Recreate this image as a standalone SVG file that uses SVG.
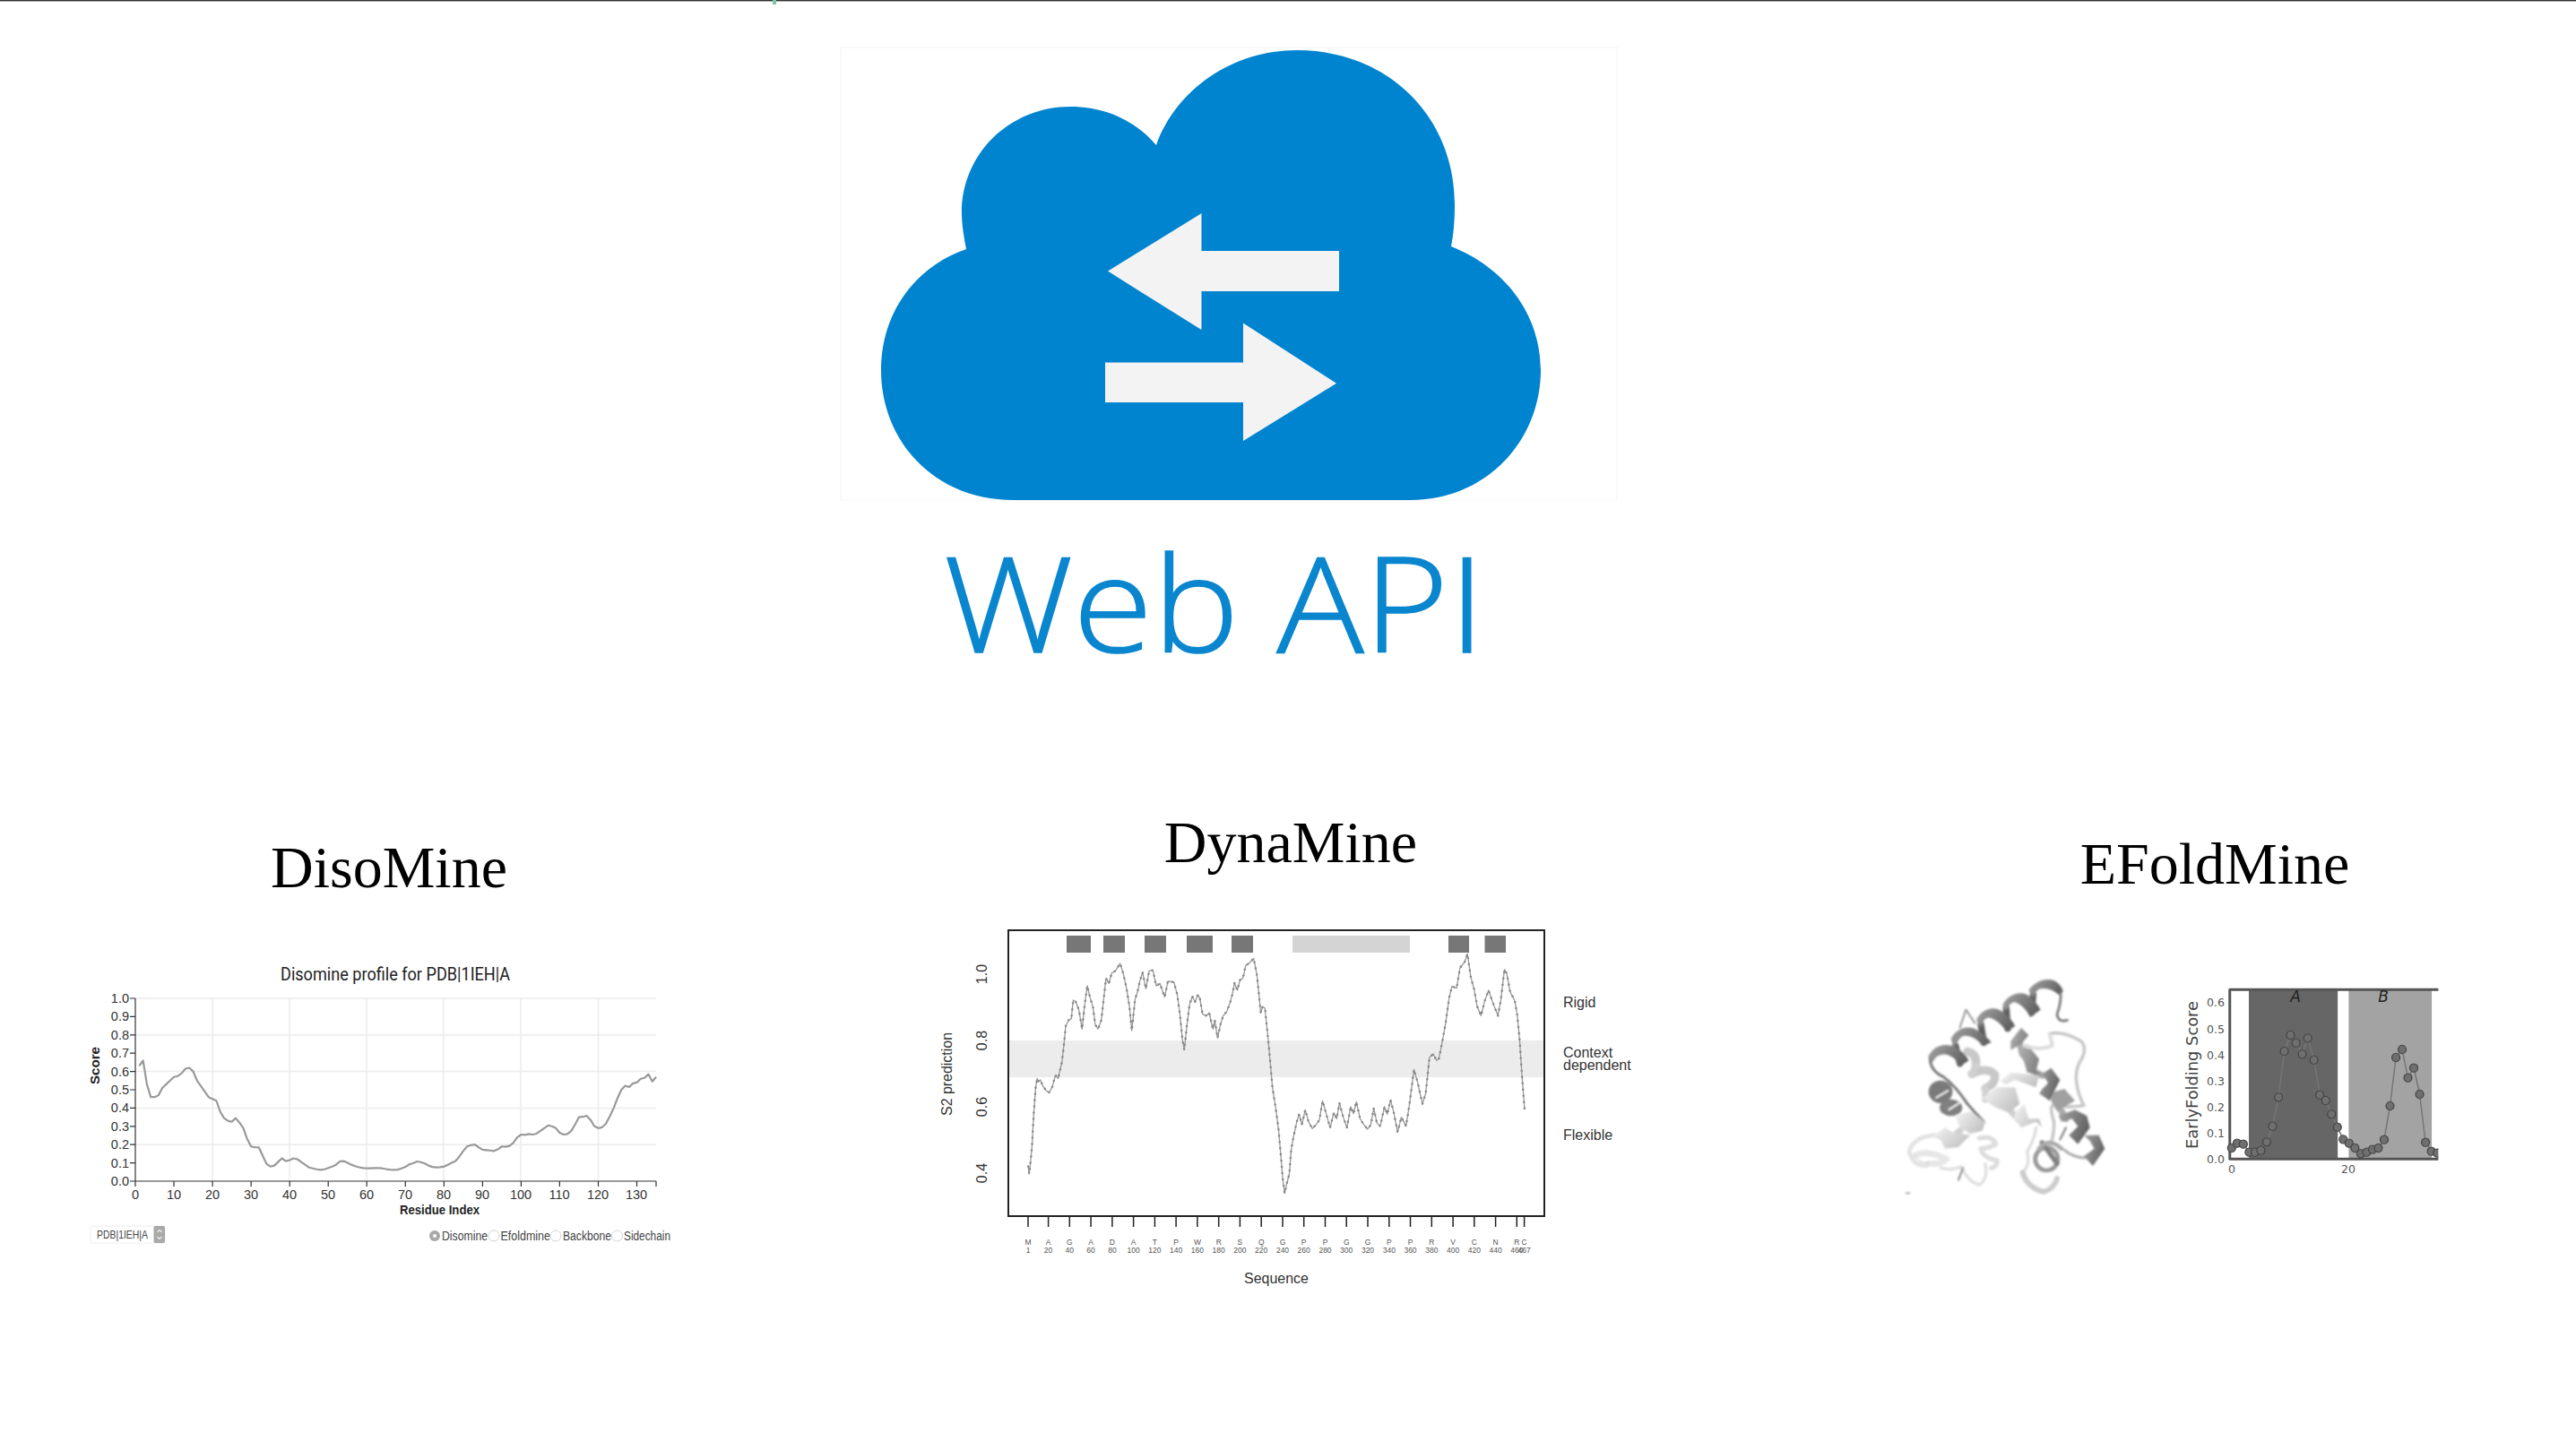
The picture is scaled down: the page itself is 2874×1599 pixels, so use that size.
<svg xmlns="http://www.w3.org/2000/svg" width="2874" height="1599" viewBox="0 0 2874 1599">
<style>
text{font-family:"Liberation Sans",Arial,sans-serif}
.title{font-family:"Liberation Serif","Times New Roman",serif;font-size:66px;fill:#000}
.dt{font-size:14.5px;fill:#333}
.dx{text-anchor:middle}
.dy{text-anchor:end}
.dl{font-size:14px;fill:#444}
.dyn{font-size:16px;fill:#333}
.seq{font-size:8.5px;fill:#555;text-anchor:middle}
.ef{font-family:"DejaVu Sans",sans-serif;font-size:12.5px;fill:#555}
.bar{fill:#777}
.nv{fill:none;stroke-linejoin:round}
.radio{fill:#fff;stroke:#d4d4d4;stroke-width:1}
.dynline{fill:none;stroke-linejoin:round;stroke:#999;stroke-width:1.3}
.dyndots{fill:none;stroke:#8a8a8a;stroke-width:2.6;stroke-linecap:round;stroke-dasharray:0 7}
</style>
<defs>
<marker id="efdot" markerUnits="userSpaceOnUse" markerWidth="36" markerHeight="36" refX="18" refY="18" orient="0">
<ellipse cx="18" cy="18" rx="11" ry="14" fill="#6f6f6f" stroke="#444" stroke-width="3"/>
</marker>
<clipPath id="efclip"><rect x="935" y="60" width="585" height="600"/></clipPath>
<filter id="soft" x="-5%" y="-5%" width="110%" height="110%"><feGaussianBlur stdDeviation="2.6"/></filter>
<linearGradient id="hd" x1="0" y1="0" x2="1" y2="0.4"><stop offset="0" stop-color="#a4a4a4"/><stop offset="1" stop-color="#636363"/></linearGradient>
<linearGradient id="hm" x1="0" y1="0" x2="1" y2="0.4"><stop offset="0" stop-color="#b4b4b4"/><stop offset="1" stop-color="#808080"/></linearGradient>
<linearGradient id="hl" x1="0" y1="0" x2="1" y2="0.6"><stop offset="0" stop-color="#f4f4f4"/><stop offset="1" stop-color="#c4c4c4"/></linearGradient>
<polyline id="dyn-line" vector-effect="non-scaling-stroke" points="224,845 226,870 228,845 232,780 234,720 236,665 238,620 240,580 243,550 246,560 250,555 255,575 262,590 268,598 275,580 282,540 288,550 290,535 296,495 300,440 304,375 310,355 316,350 320,288 326,295 332,320 339,385 344,310 350,240 356,280 362,310 367,370 373,385 380,355 385,285 390,215 396,232 402,198 410,190 420,165 427,200 434,250 440,310 445,390 452,285 458,255 462,225 468,195 475,250 482,190 490,188 497,240 505,232 515,278 522,225 535,228 542,270 548,340 553,420 557,455 562,380 568,305 574,275 580,295 586,270 590,280 596,335 604,340 610,330 618,385 622,355 628,415 634,370 640,340 648,325 655,295 660,265 664,230 670,255 676,220 682,215 688,172 695,165 705,148 712,205 716,265 720,330 724,310 729,315 735,405 740,490 745,580 752,650 758,720 763,810 767,885 771,935 776,900 781,870 785,790 790,745 797,695 802,670 808,705 815,655 822,695 830,718 838,705 845,690 852,625 860,670 868,715 876,665 882,685 888,632 896,680 904,715 912,645 918,668 924,628 932,685 940,705 948,720 955,705 961,650 968,700 975,710 984,645 990,670 997,622 1004,665 1012,730 1020,680 1030,710 1037,640 1047,520 1055,565 1065,635 1072,600 1080,480 1088,468 1095,490 1100,485 1107,430 1114,370 1122,280 1128,242 1138,248 1145,180 1155,160 1161,133 1168,210 1175,250 1182,310 1190,340 1198,290 1206,255 1216,300 1226,340 1232,290 1240,185 1245,200 1252,260 1262,290 1267,335 1272,415 1276,510 1279,575 1283,655"/>
</defs>
<rect width="2874" height="1599" fill="#fff"/>
<rect x="0" y="0" width="2874" height="1.4" fill="#333"/>
<rect x="862" y="0" width="4" height="5" fill="#7fc6a8"/>

<g id="web-api">
<rect x="938" y="53" width="866" height="505" fill="none" stroke="#f8f8f8" stroke-width="1.5"/>
<path fill="#0084d0" d="M1131 558 C1040 558 983 490 983 413 C983 350 1020 298 1078 278 C1075 262 1073 250 1073 238 C1073 170 1128 119 1194 119 C1235 119 1268 136 1290 162 C1312 100 1375 56 1447 56 C1548 56 1623 130 1623 228 C1623 245 1622 260 1619 275 C1678 298 1719 350 1719 413 C1719 490 1660 558 1573 558 Z"/>
<path fill="#f3f3f3" d="M1236 302.6 L1340.5 238 V280 H1494 V325 H1340.5 V368 Z"/>
<path fill="#f3f3f3" d="M1233 404.6 H1387 V360.6 L1491 427.7 L1387 492 V449 H1233 Z"/>
<text x="1053" y="728" textLength="604" lengthAdjust="spacingAndGlyphs" style="font-family:'Open Sans',sans-serif;font-weight:300;font-size:148px;fill:#0a86cf;stroke:#0a86cf;stroke-width:1.5">Web API</text>
</g>

<g id="disomine">
<text class="title" x="434" y="990" text-anchor="middle">DisoMine</text>
<text x="313" y="1094" textLength="256" lengthAdjust="spacingAndGlyphs" style="font-family:Roboto,sans-serif;font-size:20px;fill:#222">Disomine profile for PDB|1IEH|A</text>
<path class="nv" stroke="#ececec" stroke-width="1.5" d="M151 1114H732M151 1155H732M151 1195.6H732M151 1236.6H732M151 1277.2H732M237 1114V1318M323 1114V1318M409 1114V1318M495 1114V1318M581 1114V1318M667.500 1114V1318"/>
<path class="nv" stroke="#333" stroke-width="1.2" d="M151 1114V1318H732M145 1114H151M145 1134.400H151M145 1154.800H151M145 1175.200H151M145 1195.600H151M145 1216H151M145 1236.400H151M145 1256.800H151M145 1277.200H151M145 1297.600H151M145 1318H151M151 1318v6M194 1318v6M237.100 1318v6M280.100 1318v6M323.200 1318v6M366.200 1318v6M409.200 1318v6M452.300 1318v6M495.300 1318v6M538.400 1318v6M581.400 1318v6M624.400 1318v6M667.500 1318v6M710.500 1318v6M732 1318v6"/>
<polyline class="nv" stroke="#999" stroke-width="2.2" vector-effect="non-scaling-stroke" transform="translate(151 1318) scale(4.304 -204)" points="1,.63 2,.66 3,.53 4,.46 5,.46 6,.47 7,.51 8,.53 9,.55 10,.57 11,.575 12,.59 13,.615 14,.62 15,.6 16,.55 17,.52 18,.49 19,.46 20,.45 21,.44 22,.38 23,.345 24,.33 25,.325 26,.345 27,.32 28,.29 29,.23 30,.19 31,.185 32,.185 33,.14 34,.095 35,.08 36,.085 37,.105 38,.125 39,.11 40,.115 41,.125 42,.12 43,.105 44,.09 45,.075 46,.07 47,.065 48,.062 49,.065 50,.072 51,.08 52,.09 53,.108 54,.11 55,.1 56,.09 57,.082 58,.076 59,.072 60,.07 61,.07 62,.072 63,.072 64,.07 65,.066 66,.063 67,.062 68,.063 69,.07 70,.078 71,.092 72,.098 73,.108 74,.104 75,.097 76,.085 77,.078 78,.075 79,.077 80,.08 81,.09 82,.1 83,.11 84,.135 85,.165 86,.19 87,.197 88,.2 89,.185 90,.172 91,.17 92,.168 93,.165 94,.175 95,.19 96,.188 97,.193 98,.21 99,.24 100,.255 101,.253 102,.258 103,.255 104,.26 105,.275 106,.29 107,.305 108,.3 109,.29 110,.265 111,.255 112,.258 113,.275 114,.31 115,.35 116,.352 117,.358 118,.335 119,.3 120,.29 121,.295 122,.315 123,.355 124,.4 125,.455 126,.5 127,.522 128,.515 129,.535 130,.54 131,.56 132,.565 133,.585 134,.545 135,.57"/>
<g class="dt">
<text class="dt dy" x="144" y="1119">1.0</text><text class="dt dy" x="144" y="1139.400">0.9</text><text class="dt dy" x="144" y="1159.800">0.8</text><text class="dt dy" x="144" y="1180.200">0.7</text><text class="dt dy" x="144" y="1200.600">0.6</text><text class="dt dy" x="144" y="1221">0.5</text><text class="dt dy" x="144" y="1241.400">0.4</text><text class="dt dy" x="144" y="1261.800">0.3</text><text class="dt dy" x="144" y="1282.200">0.2</text><text class="dt dy" x="144" y="1302.600">0.1</text><text class="dt dy" x="144" y="1323">0.0</text>
<text class="dt dx" x="151" y="1338">0</text><text class="dt dx" x="194" y="1338">10</text><text class="dt dx" x="237" y="1338">20</text><text class="dt dx" x="280" y="1338">30</text><text class="dt dx" x="323" y="1338">40</text><text class="dt dx" x="366" y="1338">50</text><text class="dt dx" x="409" y="1338">60</text><text class="dt dx" x="452" y="1338">70</text><text class="dt dx" x="495" y="1338">80</text><text class="dt dx" x="538" y="1338">90</text><text class="dt dx" x="581" y="1338">100</text><text class="dt dx" x="624" y="1338">110</text><text class="dt dx" x="667" y="1338">120</text><text class="dt dx" x="710" y="1338">130</text>
</g>
<text x="446" y="1355" textLength="89" lengthAdjust="spacingAndGlyphs" style="font-size:14px;font-weight:700;fill:#222">Residue Index</text>
<text transform="translate(111 1210) rotate(-90)" textLength="42" lengthAdjust="spacingAndGlyphs" style="font-size:14px;font-weight:700;fill:#222">Score</text>
<rect x="101" y="1368" width="83" height="19" rx="2" fill="#fff" stroke="#eee"/>
<rect x="171.500" y="1368" width="12.500" height="19" rx="2" fill="#a9a9a9"/>
<path class="nv" stroke="#eee" stroke-width="1.200" d="M175.500 1375l2.500-2.500l2.500 2.500M175.500 1380l2.500 2.500l2.500-2.500"/>
<text class="dl" x="108" y="1382" textLength="57" lengthAdjust="spacingAndGlyphs" style="font-size:12.500px">PDB|1IEH|A</text>
<circle cx="485" cy="1379" r="6" fill="#a8a8a8"/><circle cx="485" cy="1379" r="2" fill="#fff"/>
<text class="dl" x="493" y="1384" textLength="51" lengthAdjust="spacingAndGlyphs">Disomine</text>
<circle class="radio" cx="551" cy="1379" r="6"/>
<text class="dl" x="558.500" y="1384" textLength="55.500" lengthAdjust="spacingAndGlyphs">Efoldmine</text>
<circle class="radio" cx="620" cy="1379" r="6"/>
<text class="dl" x="628" y="1384" textLength="54" lengthAdjust="spacingAndGlyphs">Backbone</text>
<circle class="radio" cx="688.500" cy="1379" r="6"/>
<text class="dl" x="696" y="1384" textLength="52" lengthAdjust="spacingAndGlyphs">Sidechain</text>
</g>

<g id="dynamine">
<text class="title" x="1440" y="962" text-anchor="middle">DynaMine</text>
<rect x="1126" y="1161" width="596" height="41" fill="#ececec"/>
<rect class="bar" x="1190" y="1044" width="27" height="19"/><rect class="bar" x="1231" y="1044" width="24" height="19"/><rect class="bar" x="1277" y="1044" width="24" height="19"/><rect class="bar" x="1324" y="1044" width="29" height="19"/><rect class="bar" x="1374" y="1044" width="24" height="19"/><rect x="1442" y="1044" width="131" height="19" fill="#d4d4d4"/><rect class="bar" x="1616" y="1044" width="23" height="19"/><rect class="bar" x="1656.500" y="1044" width="23.500" height="19"/>
<g transform="translate(1030 1020) scale(.523 .3333)">
<use href="#dyn-line" class="dynline"/>
<use href="#dyn-line" class="dyndots"/>
</g>
<rect x="1125" y="1038" width="598" height="319" fill="none" stroke="#222" stroke-width="2"/>
<path class="nv" stroke="#222" stroke-width="1.500" d="M1147 1358v11M1169.600 1358v11M1193.300 1358v11M1217.100 1358v11M1240.900 1358v11M1264.600 1358v11M1288.400 1358v11M1312.100 1358v11M1335.900 1358v11M1359.700 1358v11M1383.400 1358v11M1407.200 1358v11M1431 1358v11M1454.700 1358v11M1478.500 1358v11M1502.200 1358v11M1526 1358v11M1549.800 1358v11M1573.500 1358v11M1597.300 1358v11M1621.100 1358v11M1644.800 1358v11M1668.600 1358v11M1692.300 1358v11M1700.600 1358v11"/>
<text class="seq" x="1147" y="1389">M</text><text class="seq" x="1147" y="1398">1</text>
<text class="seq" x="1169.600" y="1389">A</text><text class="seq" x="1169.600" y="1398">20</text>
<text class="seq" x="1193.300" y="1389">G</text><text class="seq" x="1193.300" y="1398">40</text>
<text class="seq" x="1217.100" y="1389">A</text><text class="seq" x="1217.100" y="1398">60</text>
<text class="seq" x="1240.900" y="1389">D</text><text class="seq" x="1240.900" y="1398">80</text>
<text class="seq" x="1264.600" y="1389">A</text><text class="seq" x="1264.600" y="1398">100</text>
<text class="seq" x="1288.400" y="1389">T</text><text class="seq" x="1288.400" y="1398">120</text>
<text class="seq" x="1312.100" y="1389">P</text><text class="seq" x="1312.100" y="1398">140</text>
<text class="seq" x="1335.900" y="1389">W</text><text class="seq" x="1335.900" y="1398">160</text>
<text class="seq" x="1359.700" y="1389">R</text><text class="seq" x="1359.700" y="1398">180</text>
<text class="seq" x="1383.400" y="1389">S</text><text class="seq" x="1383.400" y="1398">200</text>
<text class="seq" x="1407.200" y="1389">Q</text><text class="seq" x="1407.200" y="1398">220</text>
<text class="seq" x="1431" y="1389">G</text><text class="seq" x="1431" y="1398">240</text>
<text class="seq" x="1454.700" y="1389">P</text><text class="seq" x="1454.700" y="1398">260</text>
<text class="seq" x="1478.500" y="1389">P</text><text class="seq" x="1478.500" y="1398">280</text>
<text class="seq" x="1502.200" y="1389">G</text><text class="seq" x="1502.200" y="1398">300</text>
<text class="seq" x="1526" y="1389">G</text><text class="seq" x="1526" y="1398">320</text>
<text class="seq" x="1549.800" y="1389">P</text><text class="seq" x="1549.800" y="1398">340</text>
<text class="seq" x="1573.500" y="1389">P</text><text class="seq" x="1573.500" y="1398">360</text>
<text class="seq" x="1597.300" y="1389">R</text><text class="seq" x="1597.300" y="1398">380</text>
<text class="seq" x="1621.100" y="1389">V</text><text class="seq" x="1621.100" y="1398">400</text>
<text class="seq" x="1644.800" y="1389">C</text><text class="seq" x="1644.800" y="1398">420</text>
<text class="seq" x="1668.600" y="1389">N</text><text class="seq" x="1668.600" y="1398">440</text>
<text class="seq" x="1692.300" y="1389">R</text><text class="seq" x="1692.300" y="1398">460</text>
<text class="seq" x="1700.600" y="1389">C</text><text class="seq" x="1700.600" y="1398">467</text>
<text class="dyn" x="1388" y="1432" textLength="72" lengthAdjust="spacingAndGlyphs">Sequence</text>
<text class="dyn" x="1744" y="1124">Rigid</text>
<text class="dyn" x="1744" y="1180">Context</text>
<text class="dyn" x="1744" y="1194">dependent</text>
<text class="dyn" x="1744" y="1272">Flexible</text>
<text class="dyn" transform="translate(1062 1245) rotate(-90)" textLength="93" lengthAdjust="spacingAndGlyphs">S2 prediction</text>
<text class="dyn" text-anchor="middle" transform="translate(1101 1087) rotate(-90)">1.0</text>
<text class="dyn" text-anchor="middle" transform="translate(1101 1161) rotate(-90)">0.8</text>
<text class="dyn" text-anchor="middle" transform="translate(1101 1235) rotate(-90)">0.6</text>
<text class="dyn" text-anchor="middle" transform="translate(1101 1309) rotate(-90)">0.4</text>
</g>

<g id="efoldmine">
<text class="title" x="2471" y="986" text-anchor="middle">EFoldMine</text>
<g id="protein" transform="translate(2115 1085) scale(.3333)" filter="url(#soft)" fill="none" stroke-linecap="round" stroke-linejoin="round">
<path stroke="#999" stroke-width="6" d="M215 185L235 125L265 170"/>
<path stroke="#ddd" stroke-width="9" d="M150 655Q190 665 220 650Q240 700 280 712Q310 690 300 640"/>
<path stroke="#888" stroke-width="6" d="M210 695L225 655"/>
<path stroke="#c4c4c4" stroke-width="10" d="M515 205Q560 195 620 230Q640 250 625 285Q600 320 605 365Q610 410 630 445Q580 455 525 445Q515 455 530 500Q530 560 510 590"/>
<path stroke="#777" stroke-width="9" d="M115 285Q115 330 160 350Q200 380 240 440Q265 470 295 500"/>
<path stroke="#aaa" stroke-width="9" d="M565 595Q600 625 650 620"/>
<path stroke="#777" stroke-width="6" d="M570 520L550 560"/>
<path stroke="#e2e2e2" stroke-width="14" d="M130 545Q60 550 45 600Q60 650 105 648"/>
<path stroke="#e6e6e6" stroke-width="20" d="M70 610Q110 595 170 625Q150 645 110 640"/>
<path stroke="#bbb" stroke-width="3" d="M60 610Q80 640 110 640"/>
<path stroke="#ddd" stroke-width="16" d="M280 555Q325 545 335 575Q310 590 285 590Q290 620 340 630Q340 650 320 655"/>
<path stroke="#ddd" stroke-width="10" d="M470 520Q465 560 440 600Q450 640 430 665"/>
<path stroke="#ccc" stroke-width="18" d="M425 670Q440 720 495 735Q530 725 540 690"/>
<path stroke="#c8c8c8" stroke-width="28" d="M240 265Q275 275 268 312M255 340Q305 315 332 342Q335 375 300 388"/>
<path stroke="#d0d0d0" stroke-width="22" d="M268 312L255 340M300 388L300 425M180 565L215 530M390 470L420 500"/>
<path stroke="#aaa" stroke-width="22" d="M415 235L425 275M460 330L490 345M500 395L530 420M555 465L570 490"/>
<g stroke="none">
<path fill="url(#hl)" d="M120 550L165 520L190 535L250 545L210 585L165 590L150 560Z"/>
<path fill="url(#hl)" d="M200 480L250 465L300 500L290 530L250 540L215 520Z"/>
<path fill="url(#hl)" d="M400 470L430 440L445 490L480 490L490 520L470 500L420 520L395 490Z"/>
<path fill="url(#hm)" d="M385 230L420 185L445 210L420 240L385 260Z"/>
<path fill="url(#hm)" d="M410 265L440 240L480 290L470 330L490 345L440 335L430 300Z"/>
<path fill="url(#hl)" d="M290 420L340 385L400 385L415 440L380 470L330 450Z"/>
<path fill="url(#hl)" d="M350 365L385 335L480 345L470 385L400 360L370 375Z"/>
<path fill="url(#hd)" d="M490 340L520 320L550 360L515 430L480 405L510 370Z"/>
<path fill="#a0a0a0" d="M530 400L565 390L600 430L540 465L520 430Z"/>
<path fill="url(#hd)" d="M545 480L600 460L640 480L650 520L610 575L580 545L610 515L590 490L555 500Z"/>
<path fill="url(#hd)" d="M630 545L680 545L700 590L660 648L630 615L665 590L650 565Z"/>
</g>
<path stroke="#ddd" stroke-width="12" d="M430 245Q480 265 525 245L515 205"/>
<ellipse cx="505" cy="625" rx="38" ry="38" stroke="#999" stroke-width="14"/>
<path stroke="#808080" stroke-width="16" d="M490 570L540 640"/>
<path stroke="#aaa" stroke-width="14" d="M480 590Q510 550 555 590"/>
<ellipse cx="150" cy="400" rx="40" ry="38" fill="#7a7a7a"/>
<path stroke="#fff" stroke-width="5" d="M135 420L175 396"/>
<ellipse cx="185" cy="453" rx="38" ry="28" fill="#808080"/>
<path stroke="#fff" stroke-width="5" d="M178 460L212 438"/>
<path stroke="#5e5e5e" stroke-width="22" d="M215 305L200 245M295 235L285 175M375 188L370 120M455 135L460 75"/>
<g stroke="none">
<path fill="url(#hd)" d="M110 280C125 250 155 238 185 245C215 255 235 275 245 295L215 315C205 295 195 282 170 275C145 272 130 285 125 300L110 290Z"/>
<path fill="url(#hd)" d="M185 222C205 185 245 175 275 195C295 210 310 220 320 235L290 245C275 225 255 212 232 212C215 212 205 235 195 255Z"/>
<path fill="url(#hd)" d="M270 160C285 125 325 110 355 130C375 145 390 160 400 180L370 198C355 175 340 160 315 152C300 150 290 165 285 185Z"/>
<path fill="url(#hd)" d="M358 110C370 80 410 60 440 75C460 90 475 105 485 125L450 150C440 130 425 110 400 100C385 100 375 115 370 130Z"/>
<path fill="url(#hd)" d="M445 60C465 30 505 15 535 30C550 40 560 55 560 65L545 75C530 60 510 52 485 55C470 58 465 75 460 85Z"/>
</g>
<path stroke="#777" stroke-width="8" d="M552 68Q555 100 540 140Q545 170 575 160"/>
<path stroke="#555" stroke-width="3" d="M35 739H47"/>
</g>
<g transform="translate(2100 1080) scale(.40816 .3333)">
<rect x="1002" y="74" width="243" height="566" fill="#666"/>
<rect x="1275" y="74" width="227" height="566" fill="#a3a3a3"/>
<path class="nv" stroke="#555" stroke-width="3" vector-effect="non-scaling-stroke" d="M1520 73H950V640H1520"/>
<g clip-path="url(#efclip)">
<polyline class="nv" stroke="#757575" stroke-width="1.500" vector-effect="non-scaling-stroke" marker-start="url(#efdot)" marker-mid="url(#efdot)" marker-end="url(#efdot)" points="955,603 970,587 987,590 1003,617 1019,617 1035,611 1051,583 1067,530 1083,433 1099,279 1116,225 1131,251 1148,289 1163,235 1180,308 1196,425 1212,444 1228,490 1244,533 1260,574 1276,587 1292,603 1308,622 1324,617 1340,608 1356,603 1372,575 1388,462 1404,300 1421,273 1437,368 1453,335 1469,423 1485,584 1501,614 1517,620"/>
</g>
</g>
<text x="2561" y="1118" text-anchor="middle" style="font-family:'DejaVu Sans',sans-serif;font-style:italic;font-size:17px;fill:#222">A</text>
<text x="2659" y="1118" text-anchor="middle" style="font-family:'DejaVu Sans',sans-serif;font-style:italic;font-size:17px;fill:#222">B</text>
<text class="ef dy" x="2482" y="1123">0.6</text><text class="ef dy" x="2482" y="1153">0.5</text><text class="ef dy" x="2482" y="1182">0.4</text><text class="ef dy" x="2482" y="1211">0.3</text><text class="ef dy" x="2482" y="1240">0.2</text><text class="ef dy" x="2482" y="1269">0.1</text><text class="ef dy" x="2482" y="1298">0.0</text>
<text class="ef dx" x="2490" y="1309">0</text><text class="ef dx" x="2620" y="1309">20</text>
<text transform="translate(2452 1282) rotate(-90)" textLength="165" lengthAdjust="spacingAndGlyphs" style="font-family:'DejaVu Sans',sans-serif;font-size:17px;fill:#444">EarlyFolding Score</text>
</g>
</svg>
